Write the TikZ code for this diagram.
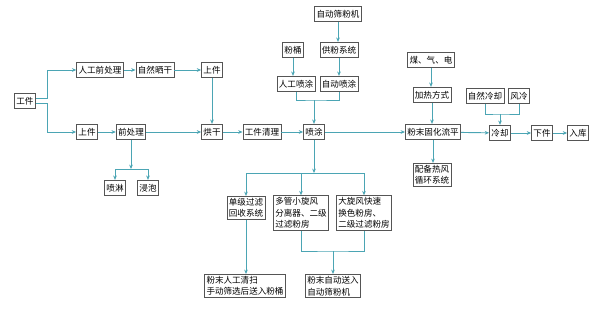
\documentclass[tikz,border=0pt]{standalone}
\usepackage{fontspec}
\setmainfont{Noto Sans CJK SC}
\usepackage{xcolor}
\usepackage{tikz}
\usetikzlibrary{arrows.meta,positioning}
\definecolor{boxCol}{RGB}{85,85,85}
\definecolor{lineCol}{RGB}{75,165,180}
\tikzset{
  box/.style={draw=boxCol, fill=white, thick, align=left, font=\fontsize{7.3}{9.8}\selectfont,
              minimum height=0.46cm, inner sep=1.6pt},
  flow/.style={-{Stealth[length=1.3mm,width=1.1mm]}, lineCol, thick},
  link/.style={lineCol, thick},
}
\begin{document}
\begin{tikzpicture}[x=0.03cm, y=-0.03cm]
  \useasboundingbox (0,0) rectangle (600,309);
  % main line
  \node[box] (gj)   at (25,101)  {工件};
  \node[box] (rgq)  at (100,70)  {人工前处理};
  \node[box] (zrsg) at (155,70)  {自然晒干};
  \node[box] (sj1)  at (212,70)  {上件};
  \node[box] (sj2)  at (87,132)  {上件};
  \node[box] (qcl)  at (131,132) {前处理};
  \node[box] (hg)   at (212,132) {烘干};
  \node[box] (gjql) at (262,132) {工件清理};
  \node[box] (pt)   at (314,132) {喷涂};
  \node[box] (gh)   at (433,132) {粉末固化流平};
  \node[box] (lq)   at (500,133) {冷却};
  \node[box] (xj)   at (542,133) {下件};
  \node[box] (rk)   at (578,133) {入库};
  % pretreatment
  \node[box] (pl)   at (115,188) {喷淋};
  \node[box] (jp)   at (148,188) {浸泡};
  % powder supply
  \node[box] (sfj)  at (338,14)  {自动筛粉机};
  \node[box] (ft)   at (293,50)  {粉桶};
  \node[box] (gfxt) at (339,50)  {供粉系统};
  \node[box] (rgpt) at (296,84)  {人工喷涂};
  \node[box] (zdpt) at (339,84)  {自动喷涂};
  % curing and cooling
  \node[box] (mqd)  at (431,60)  {煤、气、电};
  \node[box] (jrfs) at (432,95)  {加热方式};
  \node[box] (rfxt) at (432,175) {配备热风\\循环系统};
  \node[box] (zrlq) at (485,96)  {自然冷却};
  \node[box] (fl)   at (519,96)  {风冷};
  % powder recovery
  \node[box] (djgl) at (246,208) {单级过滤\\回收系统};
  \node[box] (dgxf) at (301,213) {多管小旋风\\分离器、二级\\过滤粉房};
  \node[box] (dxf)  at (364,213) {大旋风快速\\换色粉房、\\二级过滤粉房};
  \node[box] (rgqs) at (245,286) {粉末人工清扫\\手动筛选后送入粉桶};
  \node[box] (zdsr) at (333,286) {粉末自动送入\\自动筛粉机};

  % join points
  \coordinate (qjoin) at (131,169);
  \coordinate (pjoin) at (314,100);
  \coordinate (sjoin) at (314,173);
  \coordinate (fjoin) at (333,251);
  \coordinate (ljoin) at (500,114);

  % workpiece split
  \draw[flow] ([yshift=2.5pt]gj.east) -- ++(12,0) |- (rgq.west);
  \draw[flow] ([yshift=-2.5pt]gj.east) -- ++(12,0) |- (sj2.west);
  \draw[flow] (rgq) -- (zrsg);
  \draw[flow] (zrsg) -- (sj1);
  \draw[flow] (sj1) -- (hg);
  \draw[flow] (sj2) -- (qcl);
  \draw[flow] (qcl) -- (hg);
  \draw[flow] (hg) -- (gjql);
  \draw[flow] (gjql) -- (pt);
  \draw[flow] (pt) -- (gh);
  \draw[flow] (gh) -- (lq);
  \draw[flow] (lq) -- (xj);
  \draw[flow] (xj) -- (rk);
  % pretreatment branches
  \draw[flow] (qcl) -- (qjoin);
  \draw[flow] (qjoin) -| (pl);
  \draw[flow] (qjoin) -| (jp);
  % powder supply
  \draw[flow] (sfj) -- (sfj |- gfxt.north);
  \draw[flow] (ft) -- (ft |- rgpt.north);
  \draw[flow] (gfxt) -- (zdpt);
  \draw[link] (rgpt) |- (pjoin) -| (zdpt);
  \draw[flow] (pjoin) -- (pt);
  % heating
  \draw[flow] (mqd) -- (mqd |- jrfs.north);
  \draw[flow] (jrfs) -- (jrfs |- gh.north);
  \draw[flow] (gh) -- (gh |- rfxt.north);
  % cooling
  \draw[link] (zrlq) |- (ljoin) -| (fl);
  \draw[flow] (ljoin) -- (lq);
  % recovery
  \draw[flow] (pt) -- (sjoin);
  \draw[flow] (sjoin) -| (djgl.north);
  \draw[flow] (sjoin) -| (dgxf.north);
  \draw[flow] (sjoin) -| (dxf.north);
  \draw[flow] (djgl) -- (djgl |- rgqs.north);
  \draw[link] (dgxf) |- (fjoin) -| (dxf);
  \draw[flow] (fjoin) -- (zdsr);
\end{tikzpicture}
\end{document}
